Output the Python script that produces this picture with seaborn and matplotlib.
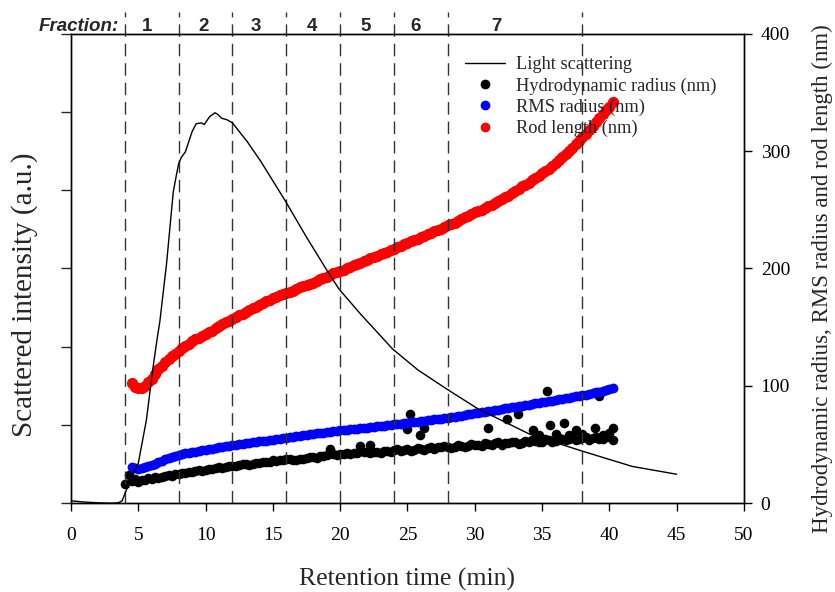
import numpy as np
import pandas as pd
import seaborn as sns
import matplotlib
matplotlib.use("Agg")
import matplotlib.pyplot as plt
from matplotlib.lines import Line2D

# ---- light scattering trace (left axis, arbitrary units) ----
ls_time = [0, 1, 2, 3, 3.5, 3.8, 4.0, 4.4, 5.0, 5.6, 6.1, 6.4, 6.6, 7.1, 7.6, 7.85,
           8.0, 8.2, 8.5, 9.0, 9.3, 9.7, 9.9, 10.3, 10.7, 10.9, 11.2, 11.6, 12.0,
           13.1, 14.1, 15.9, 17.5, 19.0, 19.9, 21.5, 23.9, 25.8, 28.0, 30.2, 34.1,
           37.9, 41.7, 45.0]
ls_int = [0.03, 0.015, 0.005, 0.0, 0.005, 0.03, 0.12, 0.29, 0.51, 1.06, 1.74, 2.10,
          2.32, 3.06, 3.98, 4.21, 4.34, 4.42, 4.49, 4.75, 4.85, 4.86, 4.84, 4.94,
          4.99, 4.97, 4.92, 4.90, 4.86, 4.62, 4.37, 3.87, 3.40, 2.98, 2.74, 2.42,
          1.97, 1.70, 1.45, 1.21, 0.88, 0.67, 0.47, 0.37]

# ---- size detectors (right axis, nm), one reading every 0.25 min ----
size_time = [4.5, 4.75,
             5.0, 5.25, 5.5, 5.75, 6.0, 6.25, 6.5, 6.75, 7.0, 7.25, 7.5, 7.75,
             8.0, 8.25, 8.5, 8.75, 9.0, 9.25, 9.5, 9.75, 10.0, 10.25, 10.5, 10.75,
             11.0, 11.25, 11.5, 11.75, 12.0, 12.25, 12.5, 12.75, 13.0, 13.25, 13.5,
             13.75, 14.0, 14.25, 14.5, 14.75, 15.0, 15.25, 15.5, 15.75, 16.0, 16.25,
             16.5, 16.75, 17.0, 17.25, 17.5, 17.75, 18.0, 18.25, 18.5, 18.75, 19.0,
             19.25, 19.5, 19.75, 20.0, 20.25, 20.5, 20.75, 21.0, 21.25, 21.5, 21.75,
             22.0, 22.25, 22.5, 22.75, 23.0, 23.25, 23.5, 23.75, 24.0, 24.25, 24.5,
             24.75, 25.0, 25.25, 25.5, 25.75, 26.0, 26.25, 26.5, 26.75, 27.0, 27.25,
             27.5, 27.75, 28.0, 28.25, 28.5, 28.75, 29.0, 29.25, 29.5, 29.75, 30.0,
             30.25, 30.5, 30.75, 31.0, 31.25, 31.5, 31.75, 32.0, 32.25, 32.5, 32.75,
             33.0, 33.25, 33.5, 33.75, 34.0, 34.25, 34.5, 34.75, 35.0, 35.25, 35.5,
             35.75, 36.0, 36.25, 36.5, 36.75, 37.0, 37.25, 37.5, 37.75, 38.0, 38.25,
             38.5, 38.75, 39.0, 39.25, 39.5, 39.75,
             40.0, 40.25]

rod_length = [102, 99,
              98, 98.5, 100, 103, 106, 110, 114, 117, 120, 122.5, 125, 127.5,
              130, 132, 134, 136, 138, 139.5, 141, 142.5, 144, 145.5, 147, 149,
              151, 152.5, 154, 155.5, 157, 158.5, 160, 161.5, 163, 164.5, 166, 167.5,
              169, 170.5, 172, 173.5, 175, 176, 177, 178, 179, 180, 181, 182.5,
              184, 185, 186, 187, 188, 189.5, 191, 192, 193, 194.5, 196, 197,
              198, 199, 200, 201.5, 203, 204, 205, 206, 207, 208.5, 210, 211,
              212, 213, 214, 215.5, 217, 218, 219, 220.5, 222, 223, 224, 225.5,
              227, 228, 229, 230.5, 232, 233, 234, 235.5, 237, 238, 239, 240.5,
              242, 243.5, 245, 246.5, 248, 249, 250, 251.5, 253, 254.5, 256, 257.5,
              259, 260.5, 262, 264, 266, 268, 270, 271.5, 273, 275, 277, 279,
              281, 283, 285, 287.5, 290, 292.5, 295, 297.5, 300, 303, 306, 309,
              312, 315, 318, 321.5, 325, 328.5, 332, 335,
              338, 342]

rms_radius = [31, 30,
              29.5, 29.8, 30.5, 31.5, 32.5, 33.8, 35, 36.3, 37.5, 38.5, 39.5, 40.3,
              41, 41.8, 42.5, 43, 43.5, 44, 44.5, 45, 45.5, 46, 46.5, 47,
              47.5, 48, 48.5, 49, 49.5, 49.9, 50.3, 50.6, 51, 51.4, 51.8, 52.2,
              52.6, 53, 53.4, 53.8, 54.2, 54.6, 55, 55.4, 55.8, 56.2, 56.6, 57,
              57.4, 57.8, 58.2, 58.6, 59, 59.4, 59.8, 60.1, 60.5, 60.8, 61.2, 61.6,
              62, 62.3, 62.6, 62.9, 63.2, 63.5, 63.8, 64.2, 64.5, 64.8, 65.1, 65.5,
              65.8, 66.1, 66.5, 66.8, 67.2, 67.5, 67.9, 68.2, 68.6, 68.9, 69.3, 69.6,
              70, 70.3, 70.7, 71, 71.4, 71.7, 72.1, 72.5, 72.9, 73.3, 73.8, 74.2,
              74.7, 75.1, 75.6, 76, 76.5, 76.9, 77.4, 77.9, 78.4, 78.8, 79.3, 79.8,
              80.3, 80.7, 81.2, 81.6, 82.1, 82.5, 83, 83.5, 84, 84.5, 85, 85.5,
              86, 86.5, 87, 87.5, 88, 88.5, 89, 89.5, 90, 90.5, 91, 91.5,
              92, 92.6, 93.2, 93.8, 94.5, 95.1, 95.8, 96.4,
              97, 98]

hydro_radius = [19, 20.5,
                18, 19.5, 20, 21.5, 21, 22, 21.5, 22.5, 23, 24, 23.5, 24.5,
                25, 25.5, 26, 27, 26.5, 27.5, 28, 27.5, 28.5, 29.5, 29, 30,
                30.5, 30, 31, 31.5, 32, 31.5, 32.5, 33.5, 33.5, 32.5, 33, 34,
                34.5, 35.5, 35, 35.5, 36.5, 36, 37, 36.5, 37.5, 38, 37, 36.5,
                37.5, 38, 38.5, 39.5, 39, 38.5, 40, 40.5, 41, 46, 42, 41,
                41.5, 42, 42.5, 41.5, 43, 42.5, 49, 43.5, 43.5, 42.5, 44, 43.5,
                43, 44.5, 44.5, 43.5, 45, 46, 44.5, 45.5, 46, 44.5, 45.5, 47,
                46.5, 45.5, 47, 48, 46.5, 47.5, 48, 49, 48, 47, 47.5, 49.5,
                49, 48, 48.5, 50.5, 50, 49.5, 49, 51, 50.5, 49.5, 51, 52,
                50, 51, 51.5, 52.5, 52, 50.5, 51, 53, 52.5, 54, 53, 52,
                52, 54.5, 54, 52.5, 53, 55.5, 54.5, 53.5, 55, 56, 53.5, 54.5,
                55.5, 56.5, 54, 55.5, 56, 54.5, 55, 57,
                56.5, 54]

# further hydrodynamic radius readings (first eluting material and scattered points)
hydro_extra_time = [4.0, 4.3, 22.2, 25.0, 25.2, 25.9, 26.2, 31.0, 32.4, 33.2, 34.3,
                    34.8, 35.4, 35.6, 36.0, 36.6, 37.0, 37.5, 38.0, 38.9, 39.2,
                    39.5, 40.0, 40.3]
hydro_extra = [16, 24, 50, 63, 76, 58.5, 64, 64, 71.5, 76, 62, 58, 96, 67, 59, 68,
               58, 62, 59, 64.5, 91, 58, 60, 64]

# fraction boundaries and labels
fraction_edges = [4, 8, 12, 16, 20, 24, 28, 38]
fraction_labels = ["1", "2", "3", "4", "5", "6", "7"]
fraction_label_pos = [5.62, 9.87, 13.71, 17.87, 21.9, 25.6, 31.6]

sns.set_style("ticks")
plt.rcParams["font.family"] = ["Liberation Serif", "DejaVu Serif"]
plt.rcParams["axes.linewidth"] = 1.0

fig = plt.figure(figsize=(8.35, 5.92), dpi=100)
ax = fig.add_axes([0.085, 0.150, 0.806, 0.793])

hydro_df = pd.DataFrame({"t": size_time + hydro_extra_time,
                         "v": hydro_radius + hydro_extra})
rms_df = pd.DataFrame({"t": size_time, "v": rms_radius})
rod_df = pd.DataFrame({"t": size_time, "v": rod_length})

sns.scatterplot(data=hydro_df, x="t", y="v", ax=ax, color="black", s=48,
                linewidth=0, legend=False, zorder=3)
sns.scatterplot(data=rms_df, x="t", y="v", ax=ax, color="#0000ff", s=50,
                linewidth=0, legend=False, zorder=4)
sns.scatterplot(data=rod_df, x="t", y="v", ax=ax, color="#ff0000", s=65,
                linewidth=0, legend=False, zorder=4)

ax.set_xlim(0, 50)
ax.set_ylim(0, 400)
ax.set_xticks(range(0, 51, 5))
ax.set_yticks([0, 100, 200, 300, 400])

# light scattering on its own scale, drawn above the size data
ax2 = ax.twinx()
ls_df = pd.DataFrame({"t": ls_time, "i": ls_int})
sns.lineplot(data=ls_df, x="t", y="i", ax=ax2, color="black", linewidth=1.0,
             legend=False, zorder=5)
ax2.set_ylim(0, 6)
ax2.set_xlim(0, 50)
ax2.set_yticks(range(0, 7))
ax2.set_yticklabels([])
ax2.set_xlabel("")

# size scale on the right, intensity scale on the left
ax.yaxis.tick_right()
ax.yaxis.set_label_position("right")
ax2.yaxis.tick_left()
ax2.yaxis.set_label_position("left")

ax.set_xlabel("Retention time (min)", fontsize=18.5, labelpad=17)
ax.set_ylabel("Hydrodynamic radius, RMS radius and rod length (nm)", fontsize=16.5)
ax.yaxis.set_label_coords(1.101, 0.479)
ax.tick_params(axis="x", direction="out", length=6, width=1, labelsize=14,
               pad=11, colors="black")
ax.tick_params(axis="y", direction="out", length=6, width=1, labelsize=14,
               pad=6, colors="black")
ax2.set_ylabel("Scattered intensity (a.u.)", fontsize=21)
ax2.yaxis.set_label_coords(-0.049, 0.443)
ax2.tick_params(axis="y", direction="out", length=7, width=1)

for sp in list(ax.spines.values()) + list(ax2.spines.values()):
    sp.set_color("black")
    sp.set_linewidth(1.0)

# fraction boundaries extending above the plot
for x0 in fraction_edges:
    ax2.axvline(x0, ymin=0, ymax=1.046, color="#333333", linewidth=1.0,
                linestyle=(0, (9, 5)), clip_on=False, zorder=1)

for lab, xp in zip(fraction_labels, fraction_label_pos):
    ax2.text(xp, 1.016, lab, transform=ax2.get_xaxis_transform(), ha="center",
             va="center", fontsize=13.5, fontweight="bold",
             family=["Liberation Sans", "DejaVu Sans"])
ax2.text(3.55, 1.016, "Fraction:", transform=ax2.get_xaxis_transform(), ha="right",
         va="center", fontsize=13.5, fontweight="bold", fontstyle="italic",
         family=["Liberation Sans", "DejaVu Sans"])

handles = [
    Line2D([], [], color="black", linewidth=1.0),
    Line2D([], [], color="black", marker="o", linestyle="none", markersize=6),
    Line2D([], [], color="#0000ff", marker="o", linestyle="none", markersize=6),
    Line2D([], [], color="#ff0000", marker="o", linestyle="none", markersize=6),
]
labels = ["Light scattering", "Hydrodynamic radius (nm)", "RMS radius (nm)",
          "Rod length (nm)"]
ax2.legend(handles, labels, loc="upper left", bbox_to_anchor=(0.585, 0.952),
           frameon=False, fontsize=13.2, handlelength=2.2, handletextpad=0.6,
           labelspacing=0.22, borderpad=0, borderaxespad=0)

fig.savefig("out.png", dpi=100)
